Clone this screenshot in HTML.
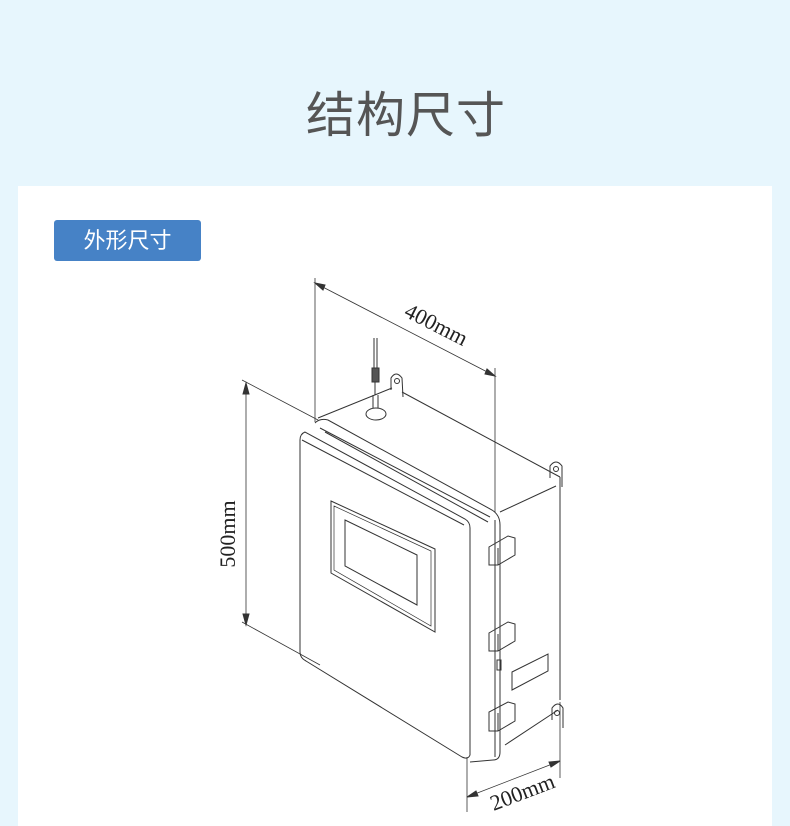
<!DOCTYPE html>
<html><head><meta charset="utf-8"><style>
html,body{margin:0;padding:0;width:790px;height:812px;overflow:hidden;background:#e7f6fd;}
.t{position:absolute;left:11px;width:790px;top:76px;text-align:center;font:400 49px "Liberation Sans","Noto Sans CJK SC",sans-serif;color:#555;letter-spacing:1px;}
.card{position:absolute;left:18px;top:186px;width:754px;height:640px;background:#fff;}
.tag{position:absolute;left:54px;top:220px;width:147px;height:41px;background:#4682c6;border-radius:3px;color:#fff;font:22px "Liberation Sans","Noto Sans CJK SC",sans-serif;line-height:41px;text-align:center;}
svg{position:absolute;left:0;top:0;}
</style></head><body>
<div class="t">结构尺寸</div>
<div class="card"></div>
<div class="tag">外形尺寸</div>
<svg width="790" height="812" viewBox="0 0 790 812" fill="none" stroke="#333" stroke-width="1">
<line x1="315" y1="278" x2="315" y2="422" stroke-width="0.8"/>
<line x1="495" y1="368" x2="495" y2="512" stroke-width="0.8"/>
<line x1="315" y1="283" x2="495" y2="376" stroke-width="0.8"/>
<polygon points="315,283 325,285 323,290" fill="#333"/>
<polygon points="495,376 485,374 487,369" fill="#333"/>
<text x="433" y="331" transform="rotate(27 433 331)" font-family="Liberation Serif,serif" font-size="22" fill="#222" stroke="none" text-anchor="middle">400mm</text>
<line x1="242" y1="380" x2="318" y2="420" stroke-width="0.8"/>
<line x1="242" y1="622" x2="320" y2="665" stroke-width="0.8"/>
<line x1="246" y1="383" x2="246" y2="625" stroke-width="0.8"/>
<polygon points="246,383 243,394 249,394" fill="#333"/>
<polygon points="246,625 243,614 249,614" fill="#333"/>
<text x="235" y="534" transform="rotate(-90 235 534)" font-family="Liberation Serif,serif" font-size="22" fill="#222" stroke="none" text-anchor="middle">500mm</text>
<line x1="467" y1="757" x2="467" y2="812" stroke-width="0.8"/>
<line x1="560" y1="702" x2="560" y2="778" stroke-width="0.8"/>
<line x1="467" y1="797" x2="560" y2="761" stroke-width="0.8"/>
<polygon points="467,797 476,791 478,796" fill="#333"/>
<polygon points="560,761 551,767 549,762" fill="#333"/>
<text x="525" y="799" transform="rotate(-21 525 799)" font-family="Liberation Serif,serif" font-size="22" fill="#222" stroke="none" text-anchor="middle">200mm</text>
<path d="M318,418 L392,388 M402,392 L560,477 M500,512 L556,486"/>
<path d="M560,477 L560,700 M505,745 L558,710"/>
<path d="M315,423 Q320,418 328,420 L492,510 Q500,515 500,525 L500,752 Q500,760 493,760"/>
<path d="M320,428 L490,517 M325,432 L488,522"/>
<path d="M493,760 L470,762"/>
<path d="M495,520 L495,757"/>
<path d="M305,432 Q300,434 300,440 L300,652 Q300,658 306,661 L462,757 Q468,760 470,755 L470,528 Q470,522 465,519 Z"/>
<path d="M302,440 L464,525"/>
<polygon points="331,501 435,549 435,632 331,573"/>
<polygon points="334,506 431,551 431,626 334,570" stroke-width="0.7"/>
<polygon points="345,520 417,555 417,605 345,566"/>
<path d="M374,338 L374,368 M377,338 L377,368"/>
<rect x="372" y="368" width="7" height="14" fill="#555"/>
<path d="M375,382 L375,395 M373,395 L373,408 M378,395 L378,408"/>
<ellipse cx="376" cy="414" rx="10" ry="6"/>
<path d="M391,390 L391,378 Q396,370 402,378 L403,397"/>
<circle cx="397" cy="381" r="2.5"/>
<path d="M550,478 L550,466 Q556,458 562,466 L562,487"/>
<circle cx="556" cy="469" r="2.5"/>
<path d="M552,720 L552,708 Q558,700 563,708 L563,728"/>
<circle cx="557" cy="713" r="2.5"/>
<path d="M489,547 L489,565 L498,565 L515,555 L515,538 L508,536 L489,547 Z M498,548 L498,565"/>
<path d="M489,633 L489,651 L498,651 L515,641 L515,624 L508,622 L489,633 Z M498,634 L498,651"/>
<path d="M489,712 L489,731 L498,731 L515,721 L515,704 L508,702 L489,712 Z M498,713 L498,731"/>
<polygon points="512,672 548,654 548,671 512,690"/>
<rect x="497" y="660" width="4" height="10"/>
</svg>
</body></html>
